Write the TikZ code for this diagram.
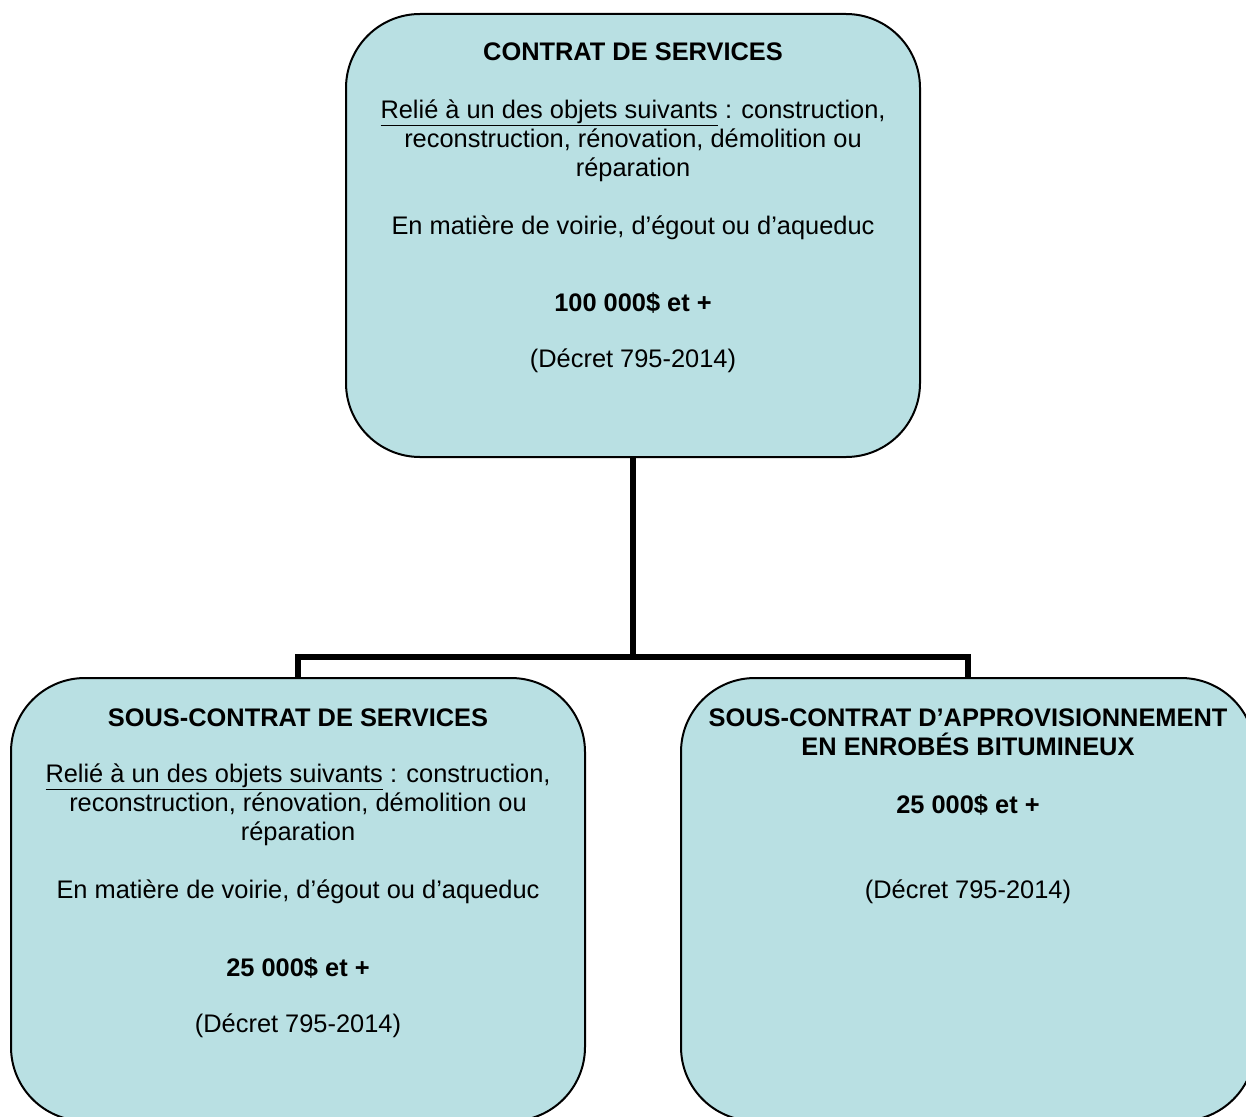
\documentclass[tikz,border=0pt]{standalone}
\usepackage{fontspec}
\setmainfont{Liberation Sans}
\usetikzlibrary{positioning}

\definecolor{boxfill}{RGB}{185,224,227}

\tikzset{
  box/.style={draw, line width=2pt, fill=boxfill, rounded corners=74pt,
    minimum width=574pt, minimum height=443pt, inner sep=0pt},
  txt/.style={align=center, inner sep=0pt, font=\fontsize{25.4}{29}\selectfont},
  ttl/.style={txt, font=\fontsize{25.4}{29}\selectfont\bfseries},
  link/.style={line width=6pt, line join=miter}
}

\begin{document}
\begin{tikzpicture}[x=1pt, y=-1pt]

  \useasboundingbox (0,0) rectangle (1246,1116);
  \clip (0,0) rectangle (1246,1116);

  % boxes
  \node[box] (top)  at (633,235.5) {};
  \node[box] (subl) at (298,899.5) {};
  \node[box] (subr) at (968,899.5) {};

  % connector
  \coordinate (split) at (633,657);
  \draw[link] (top.south) -- (split);
  \draw[link] (subl.north) |- (split) -| (subr.north);

  % top box
  \node[ttl] (t1) at (633,52) {CONTRAT DE SERVICES};
  \node[txt] (t2) at (633,141) {\underline{Relié à un des objets suivants} : construction,\\
    reconstruction, rénovation, démolition ou\\ réparation};
  \node[txt] (t3) at (633,228) {En matière de voirie, d’égout ou d’aqueduc};
  \node[ttl] (t4) at (633,303) {100 000\$ et +};
  \node[txt] (t5) at (633,361) {(Décret 795-2014)};

  % left box
  \node[ttl] (l1) at (298,718) {SOUS-CONTRAT DE SERVICES};
  \node[txt] (l2) at (298,805) {\underline{Relié à un des objets suivants} : construction,\\
    reconstruction, rénovation, démolition ou\\ réparation};
  \node[txt] (l3) at (298,892) {En matière de voirie, d’égout ou d’aqueduc};
  \node[ttl] (l4) at (298,968) {25 000\$ et +};
  \node[txt] (l5) at (298,1026) {(Décret 795-2014)};

  % right box
  \node[ttl] (r1) at (968,732.5) {SOUS-CONTRAT D’APPROVISIONNEMENT\\ EN ENROBÉS BITUMINEUX};
  \node[ttl] (r2) at (968,805) {25 000\$ et +};
  \node[txt] (r3) at (968,892) {(Décret 795-2014)};

\end{tikzpicture}
\end{document}
